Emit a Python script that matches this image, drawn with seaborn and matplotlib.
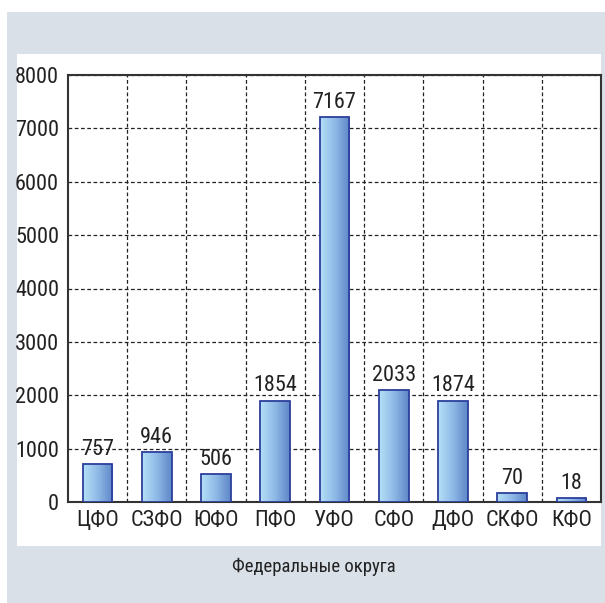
import matplotlib
matplotlib.use('Agg')
import matplotlib.pyplot as plt
from matplotlib import font_manager as fm
from matplotlib.patches import Rectangle
from matplotlib.colors import LinearSegmentedColormap
import seaborn as sns
import pandas as pd
import numpy as np

# Данные
okruga = ['ЦФО', 'СЗФО', 'ЮФО', 'ПФО', 'УФО', 'СФО', 'ДФО', 'СКФО', 'КФО']
vysota = [705, 930, 525, 1900, 7215, 2093, 1900, 160, 75]   # высота столбцов на рисунке
podpisi = ['757', '946', '506', '1854', '7167', '2033', '1874', '70', '18']
y_ticks = [0, 1000, 2000, 3000, 4000, 5000, 6000, 7000, 8000]

df = pd.DataFrame({'okrug': okruga, 'val': vysota})

sns.set_style('white')
# узкий шрифт, если есть
installed = set(f.name for f in fm.fontManager.ttflist)
candidates = ['Liberation Sans Narrow', 'Roboto Condensed', 'PT Sans Narrow',
              'Fira Sans Condensed', 'IBM Plex Sans Condensed', 'Liberation Sans']
font = [f for f in candidates if f in installed][:1]
plt.rcParams['font.family'] = font + ['DejaVu Sans']

W, H = 605, 603
fig = plt.figure(figsize=(W / 100, H / 100), dpi=100)
fig.patch.set_facecolor('white')

# фон
fig.patches.append(Rectangle((7 / W, 0), 598 / W, 591 / H, transform=fig.transFigure,
                             facecolor='#d9e0e8', edgecolor='none', zorder=-2))
fig.patches.append(Rectangle((17 / W, 57 / H), 584 / W, 492 / H, transform=fig.transFigure,
                             facecolor='white', edgecolor='none', zorder=-1))

ax = fig.add_axes([68 / W, 101 / H, 533 / W, 427 / H])
ax.set_facecolor('none')

sns.barplot(data=df, x='okrug', y='val', width=0.5, color='#7fa8dc',
            edgecolor='#2c3f9c', linewidth=1.3, ax=ax, zorder=3)

# градиент на столбцах
cmap = LinearSegmentedColormap.from_list('grad', ['#b4e0f7', '#8fb9e6', '#5d86c7'])
grad = np.linspace(0, 1, 256).reshape(1, -1)
for p in ax.patches:
    x0, y0 = p.get_x(), p.get_y()
    w, h = p.get_width(), p.get_height()
    im = ax.imshow(grad, cmap=cmap, aspect='auto', extent=[x0, x0 + w, y0, y0 + h],
                   zorder=2.9, interpolation='bicubic')
    im.set_clip_path(p)
    p.set_facecolor('none')

# подписи значений
for i, (v, t) in enumerate(zip(vysota, podpisi)):
    ax.annotate(t, (i, v), xytext=(0, 3), textcoords='offset points',
                ha='center', va='bottom', fontsize=16, color='#222222', zorder=5)

ax.set_xlim(-0.5, len(okruga) - 0.5)
ax.set_ylim(0, 8000)
ax.set_yticks(y_ticks)
ax.set_yticklabels([str(t) for t in y_ticks])

# метки по центру категорий, деления по границам
ax.set_xticks(np.arange(len(okruga)) + 0.5)
ax.set_xticklabels([])
ax.set_xticks(np.arange(len(okruga)), minor=True)
ax.set_xticklabels(okruga, minor=True)
ax.tick_params(axis='x', which='minor', length=0, pad=6, labelsize=16, labelcolor='#222222')
ax.tick_params(axis='x', which='major', direction='out', length=6, width=1.3, color='#333333')
ax.tick_params(axis='y', direction='out', length=5, width=1.3, color='#333333',
               labelsize=16, labelcolor='#222222', pad=1.5)

ax.grid(True, axis='y', which='major', linestyle=(0, (3, 2)), color='#222222', linewidth=0.9)
ax.grid(True, axis='x', which='major', linestyle=(0, (3, 2)), color='#222222', linewidth=0.9)
ax.set_axisbelow(True)

for s in ax.spines.values():
    s.set_visible(True)
    s.set_color('#333333')
    s.set_linewidth(1.5)

ax.set_xlabel('')
ax.set_ylabel('')

fig.text(314 / W, 1 - 567 / H, 'Федеральные округа', ha='center', va='center',
         fontsize=13.5, color='#222222')

fig.savefig('out.png', dpi=100, facecolor=fig.get_facecolor())
